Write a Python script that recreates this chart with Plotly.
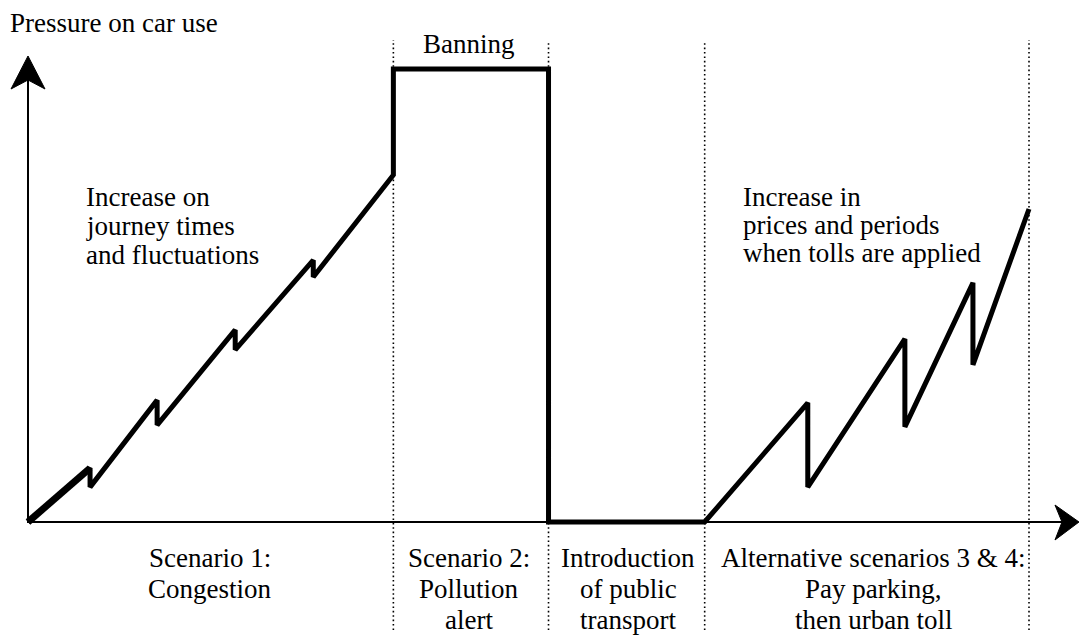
import plotly.graph_objects as go

# ---- data (conceptual units: time 0-100, pressure 0-100) ----
time = [0, 6.2, 6.2, 12.9, 12.9, 20.7, 20.7, 28.5, 28.5, 36.5, 36.5, 52.0, 52.0,
        67.6, 77.9, 77.9, 87.6, 87.6, 94.4, 94.4, 100]
pressure = [0, 11.9, 7.7, 26.9, 21.4, 42.4, 38.0, 57.8, 54.1, 76.6, 100, 100, 0,
            0, 26.3, 7.7, 40.4, 21.0, 52.8, 34.7, 69.1]
phase_bounds = [36.5, 52.0, 67.6, 100]

top_notes = ["Banning"]
left_note = ["Increase on", "journey times", "and fluctuations"]
right_note = ["Increase in", "prices and periods", "when tolls are applied"]
phase_labels = [
    ["Scenario 1:", "Congestion"],
    ["Scenario 2:", "Pollution", "alert"],
    ["Introduction", "of public", "transport"],
    ["Alternative scenarios 3 & 4:", "Pay parking,", "then urban toll"],
]
y_title = "Pressure on car use"

# ---- layout geometry ----
W, H = 1080, 635
OX, OY = 28, 522          # origin in pixels
KX, KY = 10.01, 4.53      # pixels per unit
xr = [-OX / KX, (W - OX) / KX]
yr = [(OY - H) / KY, OY / KY]

def PX(p):
    return p / W

def PY(p):
    return 1 - p / H

FONT = "Liberation Serif, Times New Roman, serif"
FS = 27

fig = go.Figure()
fig.add_trace(go.Scatter(x=time, y=pressure, mode="lines",
                         line=dict(color="black", width=5), hoverinfo="skip"))
# slightly heavier first stroke as in the drawing
fig.add_trace(go.Scatter(x=time[:2], y=pressure[:2], mode="lines",
                         line=dict(color="black", width=7), hoverinfo="skip"))

shapes = []
# dotted phase boundaries
tops = [40, 42, 43, 40]
for b, t in zip(phase_bounds, tops):
    shapes.append(dict(type="line", xref="x", yref="paper", x0=b, x1=b,
                       y0=PY(630), y1=PY(t), layer="below",
                       line=dict(color="black", width=1.6, dash="1.6px,2.8px")))
# axes
shapes.append(dict(type="line", xref="paper", yref="paper",
                   x0=PX(OX), x1=PX(OX), y0=PY(OY + 1), y1=PY(80),
                   line=dict(color="black", width=2)))
shapes.append(dict(type="line", xref="paper", yref="paper",
                   x0=PX(OX - 1), x1=PX(1062), y0=PY(OY), y1=PY(OY),
                   line=dict(color="black", width=2)))
# arrowheads
def path(pts):
    return "M " + " L ".join(f"{PX(a):.5f},{PY(b):.5f}" for a, b in pts) + " Z"

shapes.append(dict(type="path", xref="paper", yref="paper",
                   path=path([(28, 56), (11, 89), (28, 80), (45, 89)]),
                   fillcolor="black", line=dict(color="black", width=1)))
shapes.append(dict(type="path", xref="paper", yref="paper",
                   path=path([(1079, 522), (1055, 505), (1062, 522), (1055, 540)]),
                   fillcolor="black", line=dict(color="black", width=1)))

ann = []
def txt(t, x, y, xa="center"):
    ann.append(dict(text=t, x=PX(x), y=PY(y), xref="paper", yref="paper",
                    xanchor=xa, yanchor="middle", showarrow=False,
                    font=dict(family=FONT, size=FS, color="black")))

txt(y_title, 8, 23, "left")
txt(top_notes[0], 469, 44)
for i, t in enumerate(left_note):
    txt(t, 84, 197 + 29 * i, "left")
for i, t in enumerate(right_note):
    txt(t, 741, 197 + 28 * i, "left")
centers = [210, 469, 628, 873]
for c, lines in zip(centers, phase_labels):
    for i, t in enumerate(lines):
        txt(t, c, 558 + 31 * i)

fig.update_layout(
    width=W, height=H, autosize=False,
    margin=dict(l=0, r=0, t=0, b=0),
    paper_bgcolor="white", plot_bgcolor="white",
    showlegend=False,
    xaxis=dict(range=xr, visible=False, fixedrange=True),
    yaxis=dict(range=yr, visible=False, fixedrange=True),
    shapes=shapes, annotations=ann,
)
fig.write_html("out.html", config={"displayModeBar": False},
               post_script="document.body.style.margin='0';document.body.style.overflow='hidden';")
